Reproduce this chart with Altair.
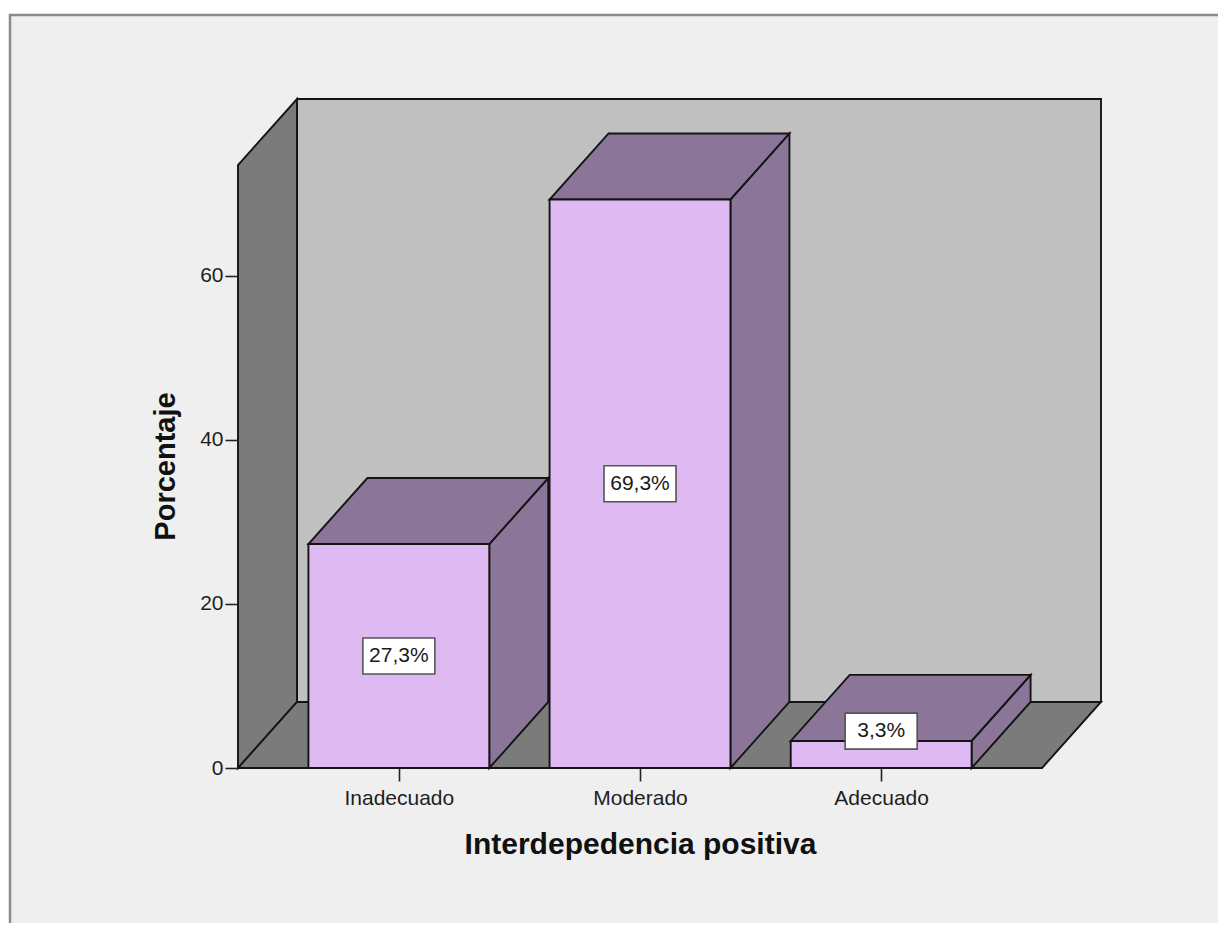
import json
import altair as alt
import pandas as pd

# ---- data ----
categories = ["Inadecuado", "Moderado", "Adecuado"]
percentages = [27.3, 69.3, 3.3]
bar_labels = ["27,3%", "69,3%", "3,3%"]
y_ticks = [0, 20, 40, 60]

# ---- 3D geometry (style constants, data units) ----
HALF = 0.375        # half bar width (category units)
DX = 0.2446         # depth offset in x (category units)
DY = 8.05           # depth offset in y (percent units)
MARGIN = 0.667      # floor margin beyond first/last category
WALL_TOP = 73.5     # front top of left wall (percent units)
LABEL_MIN = 4.5     # minimum label centre height

n = len(categories)
xL = -MARGIN
xR = (n - 1) + MARGIN
x_dom = [xL, xR + DX]
y_dom = [0, WALL_TOP + DY]

STROKE = "#141414"
SW = 1.9
FONT = "Liberation Sans"

xs = alt.Scale(domain=x_dom, nice=False, zero=False)
ys = alt.Scale(domain=y_dom, nice=False, zero=False)

lab_expr = json.dumps(categories) + "[datum.value]"
x_axis = alt.Axis(
    values=list(range(n)), labelExpr=lab_expr, title="Interdepedencia positiva",
    domain=False, grid=False, tickSize=13, tickColor="#222", tickWidth=1.6,
    labelFont=FONT, labelFontSize=21, labelColor="#1e1e1e", labelPadding=6,
    titleFont=FONT, titleFontSize=30, titleFontWeight="bold", titleColor="#111",
    titleX=402, titleY=85, titleBaseline="alphabetic", titleAlign="center",
    zindex=1)
y_axis = alt.Axis(
    values=y_ticks, title="Porcentaje", domain=False, grid=False,
    tickSize=13, tickColor="#222", tickWidth=1.6,
    labelFont=FONT, labelFontSize=21, labelColor="#1e1e1e", labelPadding=2,
    titleFont=FONT, titleFontSize=29, titleFontWeight="bold", titleColor="#111",
    titleX=-64, titleY=367, titleAngle=270, titleBaseline="alphabetic",
    titleAlign="center", zindex=1)

X = alt.X("x:Q", scale=xs, axis=x_axis)
Y = alt.Y("y:Q", scale=ys, axis=y_axis)

# background panel (decoration)
panel = alt.Chart(pd.DataFrame({"a": [0]})).mark_rect(
    fill="#efefef", stroke="#8a8a8a", strokeWidth=2.5
).encode(x=alt.value(-228), x2=alt.value(3000), y=alt.value(-84), y2=alt.value(3000))

# back wall
back_df = pd.DataFrame({"x": [xL + DX], "x2": [xR + DX], "y": [DY], "y2": [WALL_TOP + DY]})
back = alt.Chart(back_df).mark_rect(fill="#c0c0c0", stroke=STROKE, strokeWidth=SW).encode(
    x=X, x2="x2:Q", y=Y, y2="y2:Q")

# left wall
lw_df = pd.DataFrame({"x": [xL, xL + DX], "y": [0, DY], "y2": [WALL_TOP, WALL_TOP + DY]})
left_wall = alt.Chart(lw_df).mark_area(fill="#7b7b7b", stroke=STROKE, strokeWidth=SW, opacity=1).encode(
    x=X, y=Y, y2="y2:Q")

# floor
fl_df = pd.DataFrame({"x": [xL, xL + DX, xR, xR + DX], "y": [0, 0, 0, DY], "y2": [0, DY, DY, DY]})
floor = alt.Chart(fl_df).mark_area(fill="#7b7b7b", stroke=STROKE, strokeWidth=SW, opacity=1).encode(
    x=X, y=Y, y2="y2:Q")

# bars
front_rows, top_rows, side_rows, lab_rows = [], [], [], []
for i, (c, v, lab) in enumerate(zip(categories, percentages, bar_labels)):
    x0, x1 = i - HALF, i + HALF
    front_rows.append({"cat": c, "x": x0, "x2": x1, "y": 0, "y2": v})
    for (xx, a, b) in [(x0, v, v), (x0 + DX, v, v + DY), (x1, v, v + DY), (x1 + DX, v + DY, v + DY)]:
        top_rows.append({"cat": c, "x": xx, "y": a, "y2": b})
    for (xx, a, b) in [(x1, 0, v), (x1 + DX, DY, v + DY)]:
        side_rows.append({"cat": c, "x": xx, "y": a, "y2": b})
    lab_rows.append({"cat": c, "x": i, "y": max(v / 2, LABEL_MIN), "label": lab})

side = alt.Chart(pd.DataFrame(side_rows)).mark_area(
    fill="#8b7598", stroke=STROKE, strokeWidth=SW, opacity=1).encode(
    x=X, y=Y, y2="y2:Q", detail="cat:N")
top = alt.Chart(pd.DataFrame(top_rows)).mark_area(
    fill="#8b7598", stroke=STROKE, strokeWidth=SW, opacity=1).encode(
    x=X, y=Y, y2="y2:Q", detail="cat:N")
front = alt.Chart(pd.DataFrame(front_rows)).mark_rect(
    fill="#dfb9f2", stroke=STROKE, strokeWidth=SW).encode(
    x=X, x2="x2:Q", y=Y, y2="y2:Q")

lab_df = pd.DataFrame(lab_rows)
boxes = alt.Chart(lab_df).mark_point(
    shape="M-1,-0.5H1V0.5H-1Z", size=72 * 72, filled=True, fill="white",
    stroke="#555555", strokeWidth=1.6, opacity=1).encode(x=X, y=Y)
texts = alt.Chart(lab_df).mark_text(
    font=FONT, fontSize=21, color="#1a1a1a", align="center", baseline="middle").encode(
    x=X, y=Y, text="label:N")

chart = alt.layer(panel, back, left_wall, floor, side, top, front, boxes, texts).properties(
    width=863, height=669,
    padding={"left": 230, "top": 91, "right": 117, "bottom": 155},
    autosize=alt.AutoSizeParams(type="none"),
    background="white",
).configure_view(stroke=None)

chart.save("out.html", embed_options={"renderer": "svg", "actions": False})
